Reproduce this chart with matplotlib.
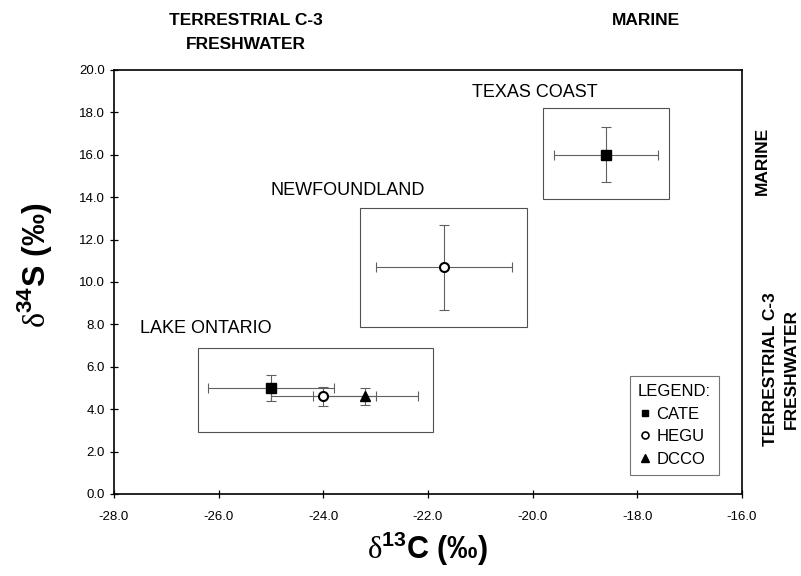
import matplotlib
matplotlib.use("Agg")
import matplotlib.pyplot as plt
from matplotlib.patches import Rectangle

plt.rcParams['font.family'] = ['Liberation Sans', 'DejaVu Sans']
plt.rcParams['mathtext.fontset'] = 'custom'
plt.rcParams['mathtext.rm'] = 'Liberation Serif'
plt.rcParams['mathtext.bf'] = 'Liberation Sans:bold'

# group means and errors (d13C, d34S)
species = ['CATE', 'HEGU', 'DCCO', 'HEGU', 'CATE']
site = ['LAKE ONTARIO', 'LAKE ONTARIO', 'LAKE ONTARIO', 'NEWFOUNDLAND', 'TEXAS COAST']
d13c = [-25.0, -24.0, -23.2, -21.7, -18.6]
d13c_err = [1.2, 1.0, 1.0, 1.3, 1.0]
d34s = [5.0, 4.6, 4.6, 10.7, 16.0]
d34s_err = [0.6, 0.45, 0.4, 2.0, 1.3]

# site boxes: x0, x1, y0, y1 in data units
site_names = ['LAKE ONTARIO', 'NEWFOUNDLAND', 'TEXAS COAST']
site_boxes = [(-26.4, -21.9, 2.9, 6.9), (-23.3, -20.1, 7.9, 13.5), (-19.8, -17.4, 13.9, 18.2)]

xticks = [-28.0, -26.0, -24.0, -22.0, -20.0, -18.0, -16.0]
yticks = [0.0, 2.0, 4.0, 6.0, 8.0, 10.0, 12.0, 14.0, 16.0, 18.0, 20.0]

markers = {'CATE': dict(marker='s', mfc='black', mec='black', ms=7),
           'HEGU': dict(marker='o', mfc='white', mec='black', ms=6.5, mew=1.5),
           'DCCO': dict(marker='^', mfc='black', mec='black', ms=7)}
leg_markers = {'CATE': dict(marker='s', mfc='black', mec='black', ms=5),
               'HEGU': dict(marker='o', mfc='white', mec='black', ms=5, mew=1.2),
               'DCCO': dict(marker='^', mfc='black', mec='black', ms=6)}

fig = plt.figure(figsize=(8.01, 5.76), dpi=100)
ax = fig.add_axes([0.1423, 0.1424, 0.784, 0.7361])

for i in range(len(d13c)):
    ax.errorbar(d13c[i], d34s[i], xerr=d13c_err[i], yerr=d34s_err[i], fmt='none',
                ecolor='#606060', elinewidth=0.8, capsize=3.5, capthick=0.8, zorder=2)
for i in range(len(d13c)):
    ax.plot(d13c[i], d34s[i], linestyle='none', zorder=3, **markers[species[i]])

for name, (x0, x1, y0, y1) in zip(site_names, site_boxes):
    ax.add_patch(Rectangle((x0, y0), x1 - x0, y1 - y0, fill=False,
                           edgecolor='#505050', lw=0.8, zorder=1))

ax.text(-27.5, 7.8, 'LAKE ONTARIO', fontsize=13, va='center', ha='left')
ax.text(-22.05, 14.3, 'NEWFOUNDLAND', fontsize=13, va='center', ha='right')
ax.text(-18.75, 18.95, 'TEXAS COAST', fontsize=13, va='center', ha='right')

leg = ax.legend(handles=[plt.Line2D([], [], linestyle='none', **leg_markers[s]) for s in ['CATE', 'HEGU', 'DCCO']],
                labels=['CATE', 'HEGU', 'DCCO'], title='LEGEND:', loc='lower right',
                bbox_to_anchor=(0.964, 0.045), borderaxespad=0, fontsize=12, title_fontsize=12,
                frameon=True, fancybox=False, edgecolor='#505050', handletextpad=0.3,
                handlelength=0.8, borderpad=0.5, labelspacing=0.45)
leg.get_frame().set_linewidth(0.8)
leg._legend_box.align = 'left'

ax.set_xlim(-28, -16)
ax.set_ylim(0, 20)
ax.set_xticks(xticks)
ax.set_yticks(yticks)
ax.set_xticklabels(['%.1f' % v for v in xticks], fontsize=9.5)
ax.set_yticklabels(['%.1f' % v for v in yticks], fontsize=9.5)
ax.tick_params(direction='inout', length=6, width=0.9)
ax.tick_params(axis='x', pad=9)
for s in ax.spines.values():
    s.set_linewidth(1.2)

ax.set_xlabel(r'$\mathrm{\delta}^{\mathbf{13}}$C (‰)', fontsize=22, fontweight='bold', labelpad=5)
ax.set_ylabel(r'$\mathrm{\delta}^{\mathbf{34}}$S (‰)', fontsize=23, fontweight='bold')
ax.yaxis.set_label_coords(-0.095, 0.54)

fig.text(0.307, 0.943, 'TERRESTRIAL C-3\nFRESHWATER', fontsize=12.5, fontweight='bold',
         ha='center', va='center', linespacing=1.75)
fig.text(0.807, 0.965, 'MARINE', fontsize=12.5, fontweight='bold', ha='center', va='center')
fig.text(0.952, 0.72, 'MARINE', fontsize=12.5, fontweight='bold', ha='center', va='center',
         rotation=90)
fig.text(0.975, 0.36, 'TERRESTRIAL C-3\nFRESHWATER', fontsize=12.5, fontweight='bold',
         ha='center', va='center', rotation=90, linespacing=1.45)

fig.savefig('out.png', dpi=100)
